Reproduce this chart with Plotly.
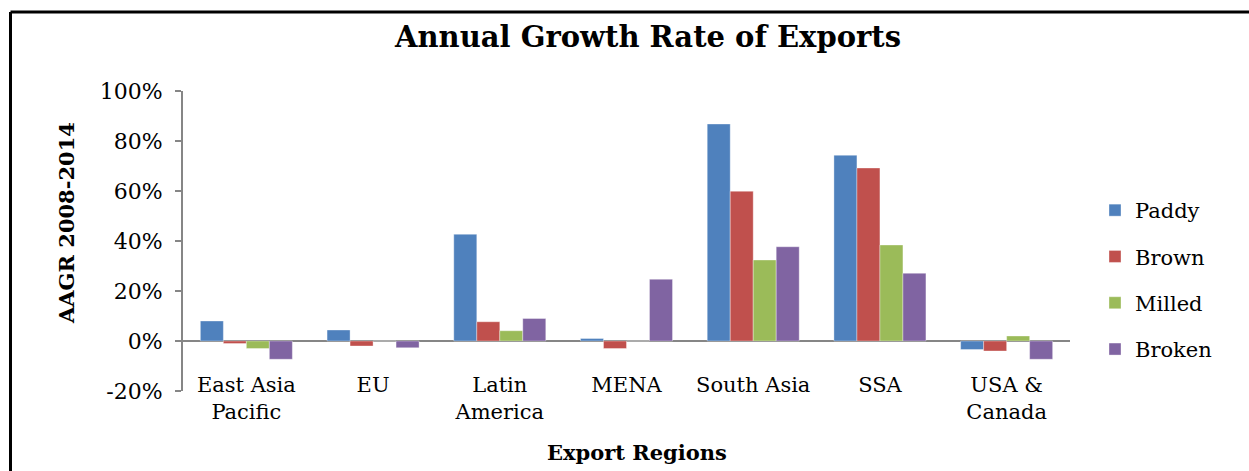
import plotly.graph_objects as go

categories = ["East Asia<br>Pacific", "EU", "Latin<br>America", "MENA", "South Asia", "SSA", "USA &<br>Canada"]
paddy = [8.0, 4.4, 42.7, 1.0, 86.8, 74.3, -3.4]
brown = [-1.0, -2.0, 7.7, -3.0, 59.9, 69.2, -4.0]
milled = [-3.0, 0.0, 4.1, 0.0, 32.4, 38.4, 2.0]
broken = [-7.3, -2.7, 9.0, 24.7, 37.7, 27.1, -7.3]

series_names = ["Paddy", "Brown", "Milled", "Broken"]
series_values = [paddy, brown, milled, broken]
colors = ["#4F81BD", "#C0504D", "#9BBB59", "#8064A2"]

y_tick_values = [-20, 0, 20, 40, 60, 80, 100]
y_tick_labels = ["-20%", "0%", "20%", "40%", "60%", "80%", "100%"]

FONT = "DejaVu Serif"

fig = go.Figure()
for name, vals, col in zip(series_names, series_values, colors):
    fig.add_trace(go.Bar(
        name=name, x=categories, y=vals, legendgroup=name,
        marker=dict(color=col, line=dict(color="rgba(255,255,255,0.35)", width=1)),
    ))

W, H = 1249, 471
L, R, T, B = 183, 1070, 91, 391
pw, ph = R - L, B - T

def px_x(p):
    return (p - L) / pw

def px_y(p):
    return (B - p) / ph

fig.update_layout(
    width=W, height=H,
    margin=dict(l=L, r=W - R, t=T, b=H - B, pad=0),
    paper_bgcolor="white", plot_bgcolor="white",
    barmode="group", bargap=0.274, bargroupgap=0,
    font=dict(family=FONT, size=21, color="black"),
    title=dict(text="Annual Growth Rate of Exports", x=px_x(648), xref="paper", xanchor="center",
               y=1 - 37 / H, yref="container", yanchor="middle",
               font=dict(family=FONT, size=29, weight="bold", color="black")),
    xaxis=dict(showgrid=False, showline=False, ticks="", anchor="free", position=px_y(370),
               tickfont=dict(family=FONT, size=21, color="black")),
    yaxis=dict(range=[-20, 100], tickmode="array", tickvals=y_tick_values, ticktext=y_tick_labels,
               showgrid=False,
               showline=True, linecolor="#868686", linewidth=2,
               ticks="outside", ticklen=6, tickwidth=2, tickcolor="#868686",
               ticklabelstandoff=8,
               zeroline=True, zerolinecolor="#868686", zerolinewidth=2,
               tickfont=dict(family=FONT, size=22, color="black")),
    legend=dict(x=px_x(1095), y=px_y(190), xanchor="left", yanchor="top",
                traceorder="grouped", tracegroupgap=16,
                font=dict(family=FONT, size=21, color="black"),
                bgcolor="rgba(0,0,0,0)"),
    annotations=[
        dict(text="AAGR 2008-2014", x=px_x(67), y=px_y(223), xref="paper", yref="paper",
             textangle=-90, showarrow=False, xanchor="center", yanchor="middle",
             font=dict(family=FONT, size=21, weight="bold", color="black")),
        dict(text="Export Regions", x=px_x(637), y=px_y(452), xref="paper", yref="paper",
             showarrow=False, xanchor="center", yanchor="middle",
             font=dict(family=FONT, size=21, weight="bold", color="black")),
    ],
    shapes=[
        dict(type="line", xref="paper", yref="paper", x0=px_x(10.5), x1=px_x(1260), y0=px_y(12), y1=px_y(12),
             line=dict(color="black", width=3)),
        dict(type="line", xref="paper", yref="paper", x0=px_x(10.5), x1=px_x(10.5), y0=px_y(12), y1=px_y(480),
             line=dict(color="black", width=3)),
    ],
)

fig.write_html("out.html", config={"displayModeBar": False},
               post_script="document.body.style.margin='0';document.body.style.overflow='hidden';")
